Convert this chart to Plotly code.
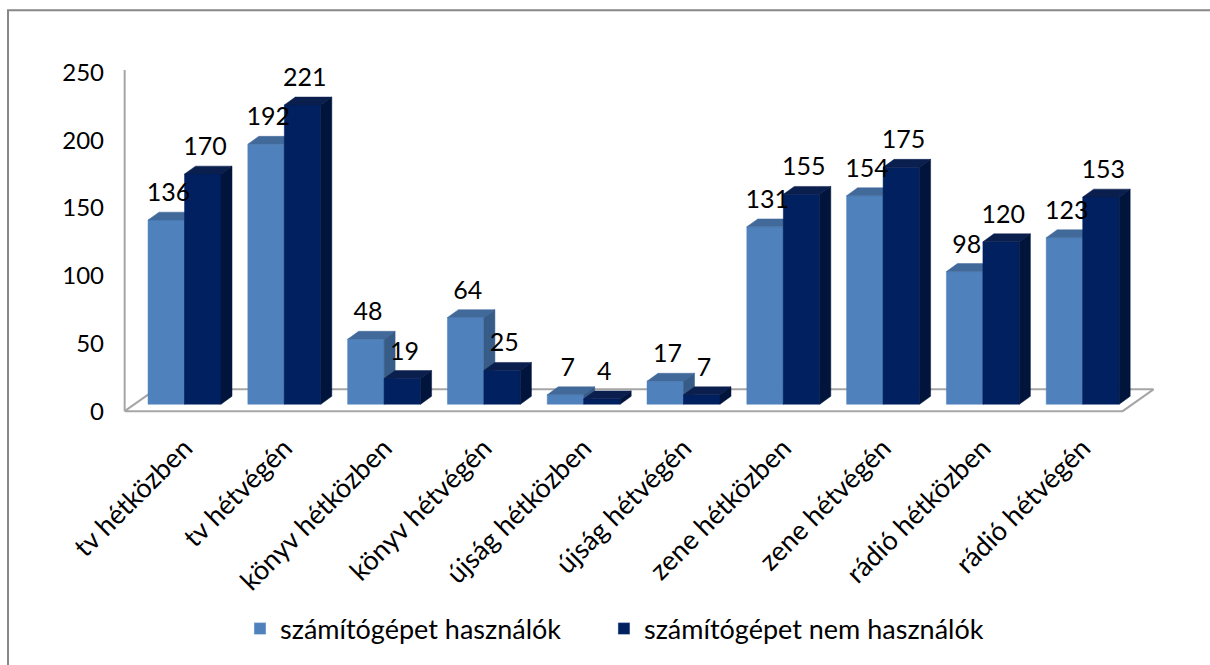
import plotly.graph_objects as go

categories = ["tv hétközben", "tv hétvégén", "könyv hétközben", "könyv hétvégén",
              "újság hétközben", "újság hétvégén", "zene hétközben", "zene hétvégén",
              "rádió hétközben", "rádió hétvégén"]
users = [136, 192, 48, 64, 7, 17, 131, 154, 98, 123]
non_users = [170, 221, 19, 25, 4, 7, 155, 175, 120, 153]
series_names = ["számítógépet használók", "számítógépet nem használók"]
y_ticks = [0, 50, 100, 150, 200, 250]

# styling / 3D geometry (in axis units)
W = 0.3657          # bar width
DX, DY = 0.11, 5.85  # bar depth offset
FDX, FDY = 0.10, 5.1  # floor front offset from bar fronts
BDX, BDY = 0.31, 16.1  # floor depth
LBL_DY = 3.5
FONT = "Lato"
light = dict(front="#4F81BD", top="#41699A", side="#385C88")
dark = dict(front="#002060", top="#0B1F4E", side="#00143C")

X_RANGE = [-0.797, 10.025]
Y_RANGE = [-16.08, 269.0]


def polys(values, x0s, kind):
    xs, ys = [], []
    for x0, v in zip(x0s, values):
        if kind == "front":
            px = [x0, x0 + W, x0 + W, x0, x0]
            py = [0, 0, v, v, 0]
        elif kind == "top":
            px = [x0, x0 + W, x0 + W + DX, x0 + DX, x0]
            py = [v, v, v + DY, v + DY, v]
        else:
            px = [x0 + W, x0 + W + DX, x0 + W + DX, x0 + W, x0 + W]
            py = [0, DY, v + DY, v, 0]
        xs += px + [None]
        ys += py + [None]
    return xs, ys


fig = go.Figure()

# floor
n = len(categories)
fl, fr = -0.5 - FDX, n - 0.5 - FDX
fy = -FDY
fig.add_trace(go.Scatter(
    x=[fl, fr, fr + BDX, fl + BDX, fl], y=[fy, fy, fy + BDY, fy + BDY, fy],
    mode="lines", fill="toself", fillcolor="white",
    line=dict(color="#A6A6A6", width=2), showlegend=False, hoverinfo="skip"))
# vertical axis line
fig.add_trace(go.Scatter(
    x=[fl, fl], y=[fy, y_ticks[-1] - FDY + 2], mode="lines",
    line=dict(color="#A6A6A6", width=2), showlegend=False, hoverinfo="skip"))

idx = list(range(n))
for vals, offs, col in [(users, -W, light), (non_users, 0.0, dark)]:
    x0s = [i + offs for i in idx]
    for kind in ["front", "top", "side"]:
        xs, ys = polys(vals, x0s, kind)
        fig.add_trace(go.Scatter(
            x=xs, y=ys, mode="lines", fill="toself", fillcolor=col[kind],
            line=dict(color=col[kind], width=0.5), showlegend=False, hoverinfo="skip"))

# data labels
for vals, offs in [(users, -W / 2), (non_users, W / 2)]:
    fig.add_trace(go.Scatter(
        x=[i + offs + DX * 0.2 for i in idx], y=[v + DY + LBL_DY for v in vals],
        mode="text", text=[str(v) for v in vals], textposition="top center",
        textfont=dict(family=FONT, size=25, color="black"),
        showlegend=False, hoverinfo="skip"))

# legend entries (one legend each, to match spacing)
for name, col, lg in zip(series_names, [light, dark], ["legend", "legend2"]):
    fig.add_trace(go.Bar(x=[None], y=[None], name=name, marker_color=col["front"],
                         legend=lg))

# invisible trace for label axis
fig.add_trace(go.Scatter(x=[None], y=[None], yaxis="y2", showlegend=False))

leg_common = dict(orientation="h", xanchor="left", y=-0.526, yanchor="middle",
                  font=dict(family=FONT, size=27), bgcolor="rgba(0,0,0,0)")

fig.update_layout(
    width=1210, height=665,
    margin=dict(l=105, r=25, t=40, b=235),
    plot_bgcolor="white", paper_bgcolor="white",
    font=dict(family=FONT, size=24, color="black"),
    xaxis=dict(range=X_RANGE, tickmode="array", tickvals=idx, ticktext=categories,
               tickangle=-45, showgrid=False, zeroline=False, showline=False,
               ticks="", tickfont=dict(family=FONT, size=27)),
    yaxis=dict(range=Y_RANGE, showticklabels=False, showgrid=False,
               zeroline=False, showline=False, ticks=""),
    yaxis2=dict(range=[Y_RANGE[0] + FDY, Y_RANGE[1] + FDY], overlaying="y",
                side="left", tickmode="array", tickvals=y_ticks,
                showgrid=False, zeroline=False, showline=False, ticks="",
                tickfont=dict(family=FONT, size=24)),
    legend=dict(x=0.125, **leg_common),
    legend2=dict(x=0.462, **leg_common),
    showlegend=True,
    shapes=[dict(type="path", xref="paper", yref="paper",
                 path="M -0.0898,-0.7 L -0.0898,1.0769 L 1.1,1.0769",
                 line=dict(color="#878787", width=2), layer="below")],
)

fig.write_html("out.html", post_script="document.body.style.margin='0';",
               config={"displayModeBar": False})
